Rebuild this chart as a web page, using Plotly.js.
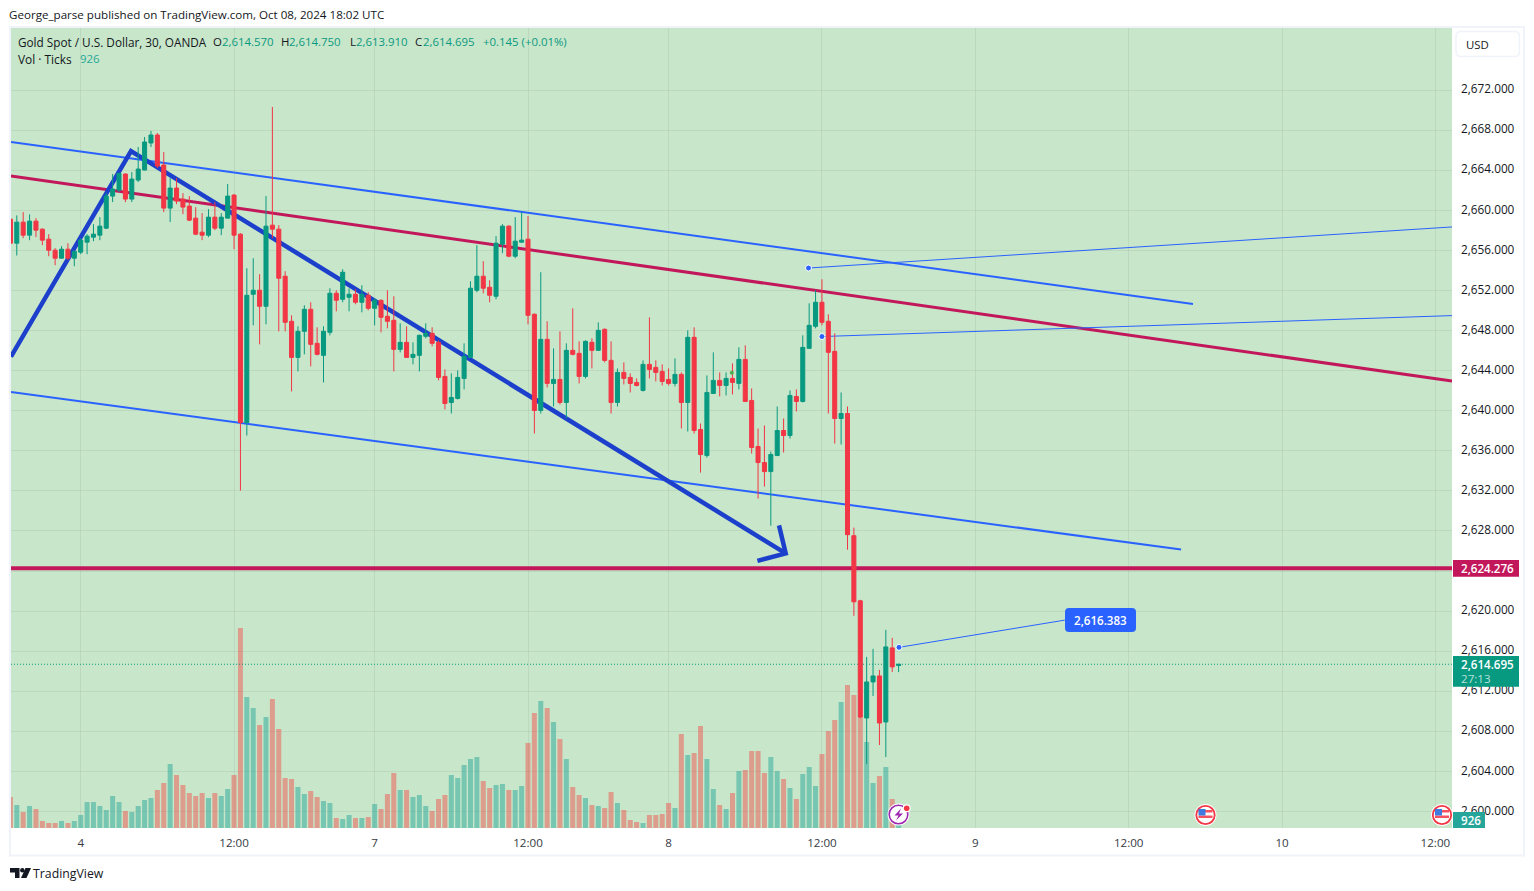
<!DOCTYPE html>
<html><head><meta charset="utf-8">
<script src="https://cdn.plot.ly/plotly-3.0.1.min.js"></script>
<style>html,body{margin:0;padding:0;background:#fff;overflow:hidden}#chart{width:1534px;height:891px}</style>
</head><body><div id="chart"></div>
<script>
const opens=[2659.13,2656.73,2658.83,2657.53,2658.93,2658.13,2657.13,2656.03,2655.23,2656.13,
2655.23,2655.83,2656.83,2657.33,2657.53,2658.23,2661.43,2662.03,2663.63,2661.13,
2663.03,2664.03,2666.73,2667.53,2664.53,2660.23,2662.23,2661.13,2660.43,2659.23,
2657.83,2657.53,2659.33,2658.23,2659.23,2661.53,2657.63,2638.83,2651.63,2652.03,
2650.43,2658.53,2658.13,2653.43,2648.93,2645.33,2647.93,2650.13,2646.73,2645.53,
2647.83,2651.73,2651.13,2651.33,2651.63,2650.83,2651.53,2650.23,2651.03,2649.43,
2649.03,2646.13,2646.83,2645.33,2645.53,2647.43,2647.73,2646.83,2643.43,2640.83,
2641.23,2643.23,2645.33,2652.03,2653.43,2652.33,2651.43,2656.63,2658.43,2655.43,
2656.83,2657.13,2649.63,2640.03,2647.13,2642.73,2643.13,2640.83,2646.03,2645.73,
2643.43,2646.83,2646.03,2648.13,2645.03,2640.83,2643.83,2643.33,2642.83,2642.03,
2644.63,2644.33,2643.93,2643.13,2642.73,2643.63,2640.83,2647.33,2638.13,2635.53,
2641.73,2643.03,2642.53,2643.23,2642.73,2645.13,2641.03,2636.43,2634.83,2633.93,
2635.53,2638.03,2637.53,2641.43,2640.93,2646.23,2648.43,2650.83,2648.93,2645.93,
2639.23,2639.73,2627.53,2621.03,2609.33,2612.93,2613.53,2608.93,2616.33,2614.57];
const highs=[2660.7,2659.5,2659.83,2659.6,2659.23,2658.2,2657.63,2656.23,2656.43,2656.73,
2655.93,2657.23,2657.63,2658.63,2659.33,2661.73,2663.63,2663.7,2663.7,2663.83,
2666.33,2667.33,2667.93,2667.73,2665.83,2663.23,2663.23,2661.73,2661.43,2660.33,
2659.73,2660.13,2660.83,2659.73,2662.63,2661.63,2657.73,2654.23,2655.23,2653.63,
2661.43,2670.33,2658.53,2653.93,2649.53,2648.43,2650.53,2650.83,2648.33,2648.43,
2652.23,2652.03,2654.13,2652.23,2652.13,2652.53,2651.83,2651.23,2651.1,2652.03,
2651.43,2648.73,2648.43,2646.83,2647.6,2648.73,2648.33,2647.03,2644.13,2643.73,
2644.03,2646.73,2652.93,2656.53,2654.93,2653.03,2657.43,2658.63,2658.53,2659.33,
2659.83,2659.43,2649.73,2653.83,2648.93,2646.23,2647.93,2646.73,2650.23,2646.93,
2647.03,2647.23,2648.83,2648.23,2646.93,2644.23,2644.83,2643.73,2643.23,2645.03,
2649.33,2645.03,2644.63,2644.23,2645.23,2643.83,2648.03,2648.33,2638.73,2643.53,
2645.83,2643.83,2643.83,2644.73,2646.33,2646.53,2642.23,2638.23,2638.53,2635.93,
2640.43,2639.23,2642.03,2642.13,2647.53,2650.73,2652.03,2653.13,2649.63,2647.73,
2641.83,2640.43,2628.33,2621.13,2615.43,2616.23,2614.13,2618.13,2617.33,2614.75];
const lows=[2655.27,2655.5,2657.23,2657.03,2657.33,2656.53,2655.43,2654.53,2655.2,2655.03,
2654.43,2655.63,2655.63,2656.93,2657.03,2658.13,2660.83,2661.83,2660.83,2660.83,
2662.83,2664.0,2666.33,2664.23,2659.83,2658.83,2660.63,2659.63,2658.93,2657.53,
2657.03,2657.33,2658.03,2657.53,2659.23,2656.13,2632.03,2637.53,2648.53,2646.63,
2648.63,2657.23,2647.93,2647.93,2641.93,2643.93,2645.63,2644.43,2645.53,2642.83,
2647.53,2649.93,2650.83,2649.93,2650.63,2649.83,2650.03,2648.53,2647.83,2648.23,
2643.93,2645.83,2645.33,2644.63,2643.93,2647.23,2646.43,2643.03,2640.13,2639.73,
2641.13,2642.13,2645.33,2651.83,2651.73,2650.83,2651.13,2655.73,2655.33,2655.23,
2656.8,2648.63,2637.73,2639.73,2642.33,2640.43,2640.63,2639.23,2645.53,2642.73,
2643.23,2644.23,2646.0,2644.83,2639.73,2640.43,2642.63,2641.83,2642.43,2641.93,
2643.23,2642.93,2642.53,2642.53,2642.43,2638.23,2637.93,2637.73,2633.83,2635.33,
2641.7,2641.43,2641.53,2641.63,2642.13,2640.9,2635.73,2631.23,2632.43,2628.53,
2635.5,2635.83,2637.23,2639.93,2640.83,2646.2,2648.23,2648.53,2639.73,2636.73,
2636.63,2626.13,2619.53,2609.33,2604.73,2611.53,2606.63,2605.43,2613.93,2613.91];
const closes=[2656.73,2658.83,2657.53,2658.93,2658.03,2657.03,2656.03,2655.23,2656.13,2655.23,
2655.93,2657.03,2657.43,2657.63,2658.43,2661.43,2662.13,2663.7,2661.13,2663.13,
2664.13,2666.83,2667.53,2664.43,2660.23,2662.23,2660.93,2660.33,2659.03,2657.63,
2657.53,2659.33,2658.23,2659.33,2661.43,2657.53,2638.83,2651.53,2652.03,2650.43,
2658.43,2658.13,2653.23,2648.83,2645.33,2647.93,2650.13,2646.63,2645.63,2647.93,
2651.73,2651.03,2653.83,2651.63,2650.83,2651.63,2650.23,2651.03,2649.33,2648.93,
2646.13,2646.83,2645.33,2645.63,2647.53,2647.73,2646.73,2643.33,2640.73,2641.33,
2643.33,2645.43,2652.23,2653.43,2652.23,2651.53,2656.73,2658.43,2655.43,2656.93,
2657.03,2649.53,2640.03,2647.13,2642.73,2643.13,2640.83,2646.03,2645.63,2643.43,
2646.93,2646.03,2648.03,2645.03,2640.83,2643.83,2643.23,2642.73,2642.53,2644.63,
2644.13,2643.83,2642.93,2642.73,2643.63,2640.83,2647.33,2638.03,2635.63,2641.83,
2643.03,2642.53,2643.23,2642.83,2645.13,2640.93,2636.33,2634.83,2633.93,2635.63,
2638.03,2637.53,2641.53,2640.93,2646.33,2648.53,2650.83,2648.83,2645.83,2639.23,
2639.73,2627.63,2620.93,2609.43,2612.93,2613.53,2608.83,2616.43,2614.43,2614.695];
const volumes=[4092,3036,2112,2904,2508,924,660,660,924,660,
924,1716,3432,3432,2904,2376,4224,3432,2244,2112,
2904,3696,3960,5016,5940,8448,6996,5676,4620,4224,
4620,3960,4620,4224,5148,6996,26400,17292,15840,13596,
14652,17028,13068,6600,6468,5412,4488,4884,4092,3564,
3300,1320,1188,1716,1320,1320,1452,3168,2508,4488,
7260,5016,5016,4092,4356,2904,2244,3828,4356,6996,
6600,8316,9108,9372,6204,5280,5676,5808,5016,5016,
5544,11220,15180,16764,15840,13992,11748,9108,5412,4356,
3960,3036,2904,2640,4752,3300,2376,1056,792,660,
1716,1716,1848,3300,2640,12408,9636,9900,13464,9108,
5148,3036,2508,4620,7524,7656,10164,10164,7260,9372,
7524,6468,5280,3828,7128,8052,5544,9768,12804,14256,
16632,18876,17556,14696,11352,5940,6864,8052,3828,926];
const barIndex=opens.map((_,i)=>i);

const timeTickIndex=[11,35,57,81,103,127,151,175,199,223];
const timeTickLabels=['4','12:00','7','12:00','8','12:00','9','12:00','10','12:00'];
const priceTickValues=[2600,2604,2608,2612,2616,2620,2624,2628,2632,2636,2640,2644,2648,2652,2656,2660,2664,2668,2672];
const priceTickLabels=['2,600.000','2,604.000','2,608.000','2,612.000','2,616.000','2,620.000','','2,628.000','2,632.000','2,636.000','2,640.000','2,644.000','2,648.000','2,652.000','2,656.000','2,660.000','2,664.000','2,668.000','2,672.000'];

const upperChannelX=[0.09,185.07], upperChannelY=[2666.83,2650.66];
const lowerChannelX=[0.09,183.2], lowerChannelY=[2641.87,2626.14];
const crimsonTrendX=[0.09,225.6], crimsonTrendY=[2663.44,2642.97];
const crimsonLevelX=[0.09,225.6], crimsonLevelY=[2624.276,2624.276];
const zigzagX=[0.09,18.87,121.33], zigzagY=[2645.4,2665.93,2625.76];
const arrowHeadX=[120.28,121.33,116.9], arrowHeadY=[2628.56,2625.76,2625.02];
const callout1X=[124.9,225.6], callout1Y=[2654.25,2658.35];
const callout2X=[127.0,225.6], callout2Y=[2647.41,2649.5];
const callout3X=[139.06,165.0], callout3Y=[2616.383,2619.1];
const lastPriceX=[0.09,225.6], lastPriceY=[2614.695,2614.695];

const W=1534,H=891,L=11,R=1452,T=28,B=828;
const px=x=>(x-L)/(R-L), py=y=>(B-y)/(B-T);
const XR=[0.094,225.6], PR=[2598.35,2678.21];
const BLUE='#2962ff', CRIM='#c2185b', THICK='#1c40cc', UP='#089981', DN='#f23645';
const line=(x,y,color,width,dash)=>({type:'scatter',mode:'lines',x,y,xaxis:'x',yaxis:'y2',hoverinfo:'skip',showlegend:false,line:{color,width,dash:dash||'solid'}});

const traces=[
 {type:'bar',x:barIndex,y:volumes,xaxis:'x',yaxis:'y',hoverinfo:'skip',showlegend:false,
  marker:{color:barIndex.map(i=>closes[i]>=opens[i]?'rgba(38,166,154,0.5)':'rgba(239,83,80,0.5)'),line:{width:0}}},
 line(lastPriceX,lastPriceY,UP,1,'1px,2px'),
 line(upperChannelX,upperChannelY,BLUE,2),
 line(lowerChannelX,lowerChannelY,BLUE,2),
 line(crimsonTrendX,crimsonTrendY,CRIM,3),
 line(crimsonLevelX,crimsonLevelY,CRIM,4),
 line(zigzagX,zigzagY,THICK,4.5),
 line(arrowHeadX,arrowHeadY,THICK,4.5),
 line(callout1X,callout1Y,BLUE,1),
 line(callout2X,callout2Y,BLUE,1),
 line(callout3X,callout3Y,BLUE,1),
 {type:'candlestick',x:barIndex,open:opens,high:highs,low:lows,close:closes,xaxis:'x',yaxis:'y3',hoverinfo:'skip',showlegend:false,whiskerwidth:0,
  increasing:{line:{color:UP,width:1},fillcolor:UP},decreasing:{line:{color:DN,width:1},fillcolor:DN}},
 {type:'scatter',mode:'markers',x:[callout1X[0],callout2X[0],callout3X[0]],y:[callout1Y[0],callout2Y[0],callout3Y[0]],xaxis:'x',yaxis:'y3',hoverinfo:'skip',showlegend:false,
  marker:{color:BLUE,size:6,line:{color:'#fff',width:1}}},
 {type:'scatter',mode:'markers',x:[112.9],y:[2643.8],xaxis:'x',yaxis:'y3',hoverinfo:'skip',showlegend:false,marker:{color:'#4caf50',size:4}}
];

const rect=(x0,y0,x1,y1,fill,extra)=>Object.assign({type:'rect',xref:'paper',yref:'paper',x0:px(x0),x1:px(x1),y0:py(y0),y1:py(y1),fillcolor:fill,line:{width:0},layer:'above'},extra||{});
const circ=(cx,cy,r,fill,lc,lw)=>({type:'circle',xref:'paper',yref:'paper',x0:px(cx-r),x1:px(cx+r),y0:py(cy+r),y1:py(cy-r),fillcolor:fill,line:{color:lc||fill,width:lw||0},layer:'above'});
const poly=(pts,fill,lc,lw)=>({type:'path',xref:'paper',yref:'paper',path:'M'+pts.map(p=>px(p[0])+','+py(p[1])).join(' L')+' Z',fillcolor:fill,line:{color:lc||fill,width:lw||0},layer:'above'});
function round(x0,y0,x1,y1,r,fill,lc,lw){
 const P=(x,y)=>px(x)+','+py(y);
 return {type:'path',xref:'paper',yref:'paper',layer:'above',fillcolor:fill,line:{color:lc||fill,width:lw||0},
  path:`M${P(x0+r,y0)} L${P(x1-r,y0)} Q${P(x1,y0)} ${P(x1,y0+r)} L${P(x1,y1-r)} Q${P(x1,y1)} ${P(x1-r,y1)} L${P(x0+r,y1)} Q${P(x0,y1)} ${P(x0,y1-r)} L${P(x0,y0+r)} Q${P(x0,y0)} ${P(x0+r,y0)} Z`};
}
function flag(cx,cy){return [
 circ(cx,cy,11,'#ffffff'),
 circ(cx,cy,9.2,'#ffffff','#f23645',1.8),
 rect(cx-7,cy-5,cx+7,cy-2.5,'#f7525f'),
 rect(cx-7,cy+0.5,cx+7,cy+3,'#f7525f'),
 rect(cx-7,cy-6,cx,cy+0.5,'#3d7be0')
];}
const FRAME='#f0f3fa';
const shapes=[
 rect(9,26,1525,28,FRAME), rect(9,854.5,1525,856.5,FRAME),
 rect(9,26,11,856.5,FRAME), rect(1523,26,1525,856.5,FRAME),
 round(1456,31.5,1519.5,56.5,5,'#ffffff',FRAME,1.5),
 rect(1453,560,1519,576.7,CRIM),
 rect(1453,656,1519,686.7,UP),
 rect(1453,812,1485,828,'#26a69a'),
 round(1065,608,1136,632,4,BLUE),
 ...flag(1205.5,815), ...flag(1442,815),
 circ(898.5,814.5,11,'#ffffff'),
 circ(898.5,814.5,9.3,'#ffffff','#9c27b0',1.6),
 poly([[901,808.5],[894.5,815.5],[898.5,815.5],[896,820.5],[903,813.5],[899,813.5]],'#9c27b0'),
 circ(906.7,808.3,4,'#ffffff'),
 circ(906.7,808.3,2.8,'#f23645'),
 poly([[10,868],[19.5,868],[19.5,878],[15,878],[15,872.5],[10,872.5]],'#131722'),
 circ(22.3,870.2,2.2,'#131722'),
 poly([[25.5,868],[31,868],[26.5,878],[21,878]],'#131722')
];
const FONT='"Open Sans",sans-serif';
const txt=(x,y,text,color,size,anchor,weight)=>({xref:'paper',yref:'paper',x:px(x),y:py(y),text,showarrow:false,xanchor:anchor||'left',yanchor:'middle',borderpad:0,font:{family:FONT,size:size||11.4,color:color||'#131722',weight:weight||400}});
const DK='#131722';
const annotations=[
 txt(8,15,'George_parse published on TradingView.com, Oct 08, 2024 18:02 UTC',DK,11.6),
 txt(16.5,42,'Gold Spot / U.S. Dollar, 30, OANDA',DK,11.75),
 txt(212,42,'O',DK),txt(220.5,42,'2,614.570',UP),
 txt(280,42,'H',DK),txt(288,42,'2,614.750',UP),
 txt(348.5,42,'L',DK),txt(355,42,'2,613.910',UP),
 txt(414,42,'C',DK),txt(422,42,'2,614.695',UP),
 txt(482,42,'+0.145 (+0.01%)',UP),
 txt(16.5,59,'Vol · Ticks',DK,11.9),txt(79,59,'926','#26a69a'),
 txt(1465,44.5,'USD',DK),
 txt(1460,568,'2,624.276','#ffffff',11.6,'left',600),
 txt(1460,664,'2,614.695','#ffffff',11.6,'left',600),
 txt(1460,678,'27:13','rgba(255,255,255,0.72)',11.6),
 txt(1460,820.5,'926','#ffffff',11.6,'left',600),
 txt(1100.5,620,'2,616.383','#ffffff',11.6,'center',600),
 txt(32,873.5,'TradingView',DK,12.3)
];
const layout={
 width:W,height:H,paper_bgcolor:'#ffffff',plot_bgcolor:'#c8e6c9',
 margin:{l:L,r:W-R,t:T,b:H-B,pad:0},showlegend:false,
 bargap:0.22,boxgap:0.37,boxgroupgap:0,dragmode:false,
 font:{family:FONT,size:12,color:DK},
 xaxis:{type:'linear',range:XR,tickmode:'array',tickvals:timeTickIndex,ticktext:timeTickLabels,showgrid:true,gridcolor:'rgba(42,46,57,0.07)',gridwidth:1,zeroline:false,showline:false,ticks:'',ticklabelstandoff:6,tickfont:{family:FONT,size:11.6,color:'#363a45'},rangeslider:{visible:false},fixedrange:true},
 yaxis:{range:[0,105600],visible:false,fixedrange:true},
 yaxis2:{overlaying:'y',side:'right',range:PR,tickmode:'array',tickvals:priceTickValues,ticktext:priceTickLabels,showgrid:true,gridcolor:'rgba(42,46,57,0.07)',gridwidth:1,zeroline:false,showline:false,ticks:'',ticklabelstandoff:8,ticklabelshift:-1,tickfont:{family:FONT,size:11.8,color:DK},fixedrange:true},
 yaxis3:{overlaying:'y',side:'right',range:PR,visible:false,fixedrange:true},
 shapes,annotations
};
Plotly.newPlot('chart',traces,layout,{displayModeBar:false,staticPlot:true});
</script></body></html>
